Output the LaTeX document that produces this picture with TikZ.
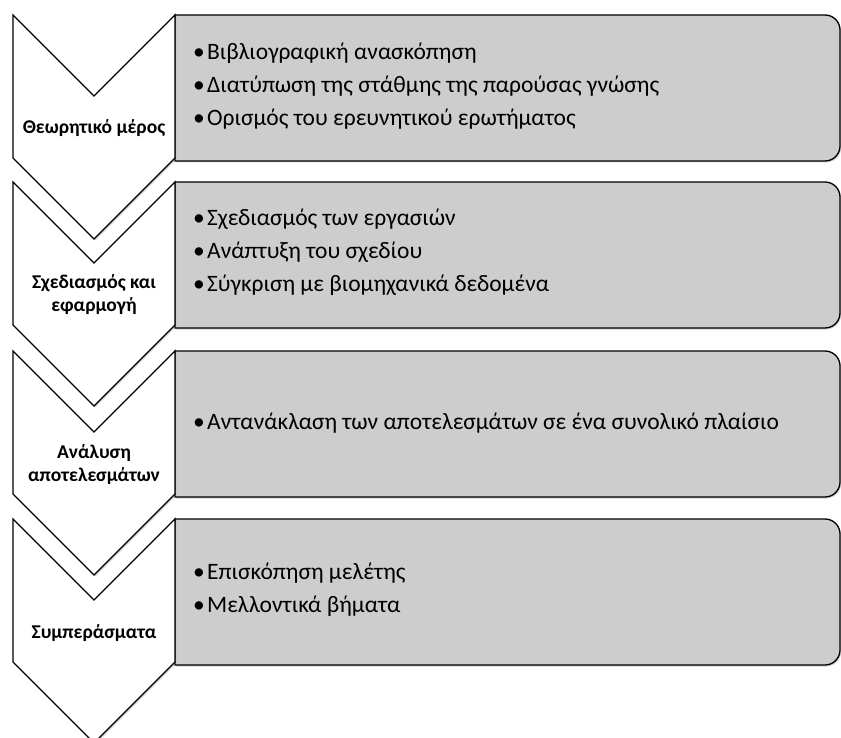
\documentclass[tikz,border=0pt]{standalone}
\usepackage{fontspec}
\setmainfont{Carlito}
\usetikzlibrary{shadows}
\tikzset{
  chev/.style={draw=black, line width=1.3pt, fill=white, line join=miter,
    drop shadow={shadow xshift=1.2pt, shadow yshift=-1.5pt, opacity=0.3, fill=black!60}},
  gbox/.style={draw=black, line width=1.3pt, fill=boxgray,
    drop shadow={shadow xshift=1.2pt, shadow yshift=-1.5pt, opacity=0.3, fill=black!60}},
  clabel/.style={font=\fontsize{19.5}{23}\selectfont\bfseries, align=center, inner sep=0pt},
  items/.style={font=\fontsize{23.5}{33}\selectfont, align=left, anchor=west, inner sep=0pt}
}
\definecolor{boxgray}{HTML}{CDCDCD}
\newcommand{\bul}{\makebox[14pt][l]{•}}
\begin{document}
\begin{tikzpicture}[x=1pt, y=-1pt]
\useasboundingbox (0,0) rectangle (841,738);
% boxes
\foreach \t in {15,182,351,519} {
  \path[gbox] (175,\t) -- (825,\t) arc[start angle=-90, end angle=0, radius=15]
     -- (840,\t+131) arc[start angle=0, end angle=90, radius=15] -- (175,\t+146) -- cycle;
}
% chevrons
\foreach \t in {15,182,351,519} {
  \path[chev] (13,\t) -- (94,\t+81) -- (175,\t) -- (175,\t+143) -- (94,\t+224) -- (13,\t+143) -- cycle;
}
\node[clabel] (l1) at (94,128) {Θεωρητικό μέρος};
\node[clabel] (l2) at (94,295) {Σχεδιασμός και\\εφαρμογή};
\node[clabel] (l3) at (94,465) {Ανάλυση\\αποτελεσμάτων};
\node[clabel] (l4) at (94,633) {Συμπεράσματα};
\node[items] (t1) at (193,86) {\bul Βιβλιογραφική ανασκόπηση\\\bul Διατύπωση της στάθμης της παρούσας γνώσης\\\bul Ορισμός του ερευνητικού ερωτήματος};
\node[items] (t2) at (193,252) {\bul Σχεδιασμός των εργασιών\\\bul Ανάπτυξη του σχεδίου\\\bul Σύγκριση με βιομηχανικά δεδομένα};
\node[items] (t3) at (193,423) {\bul Αντανάκλαση των αποτελεσμάτων σε ένα συνολικό πλαίσιο};
\node[items] (t4) at (193,590) {\bul Επισκόπηση μελέτης\\\bul Μελλοντικά βήματα};
\end{tikzpicture}
\end{document}
